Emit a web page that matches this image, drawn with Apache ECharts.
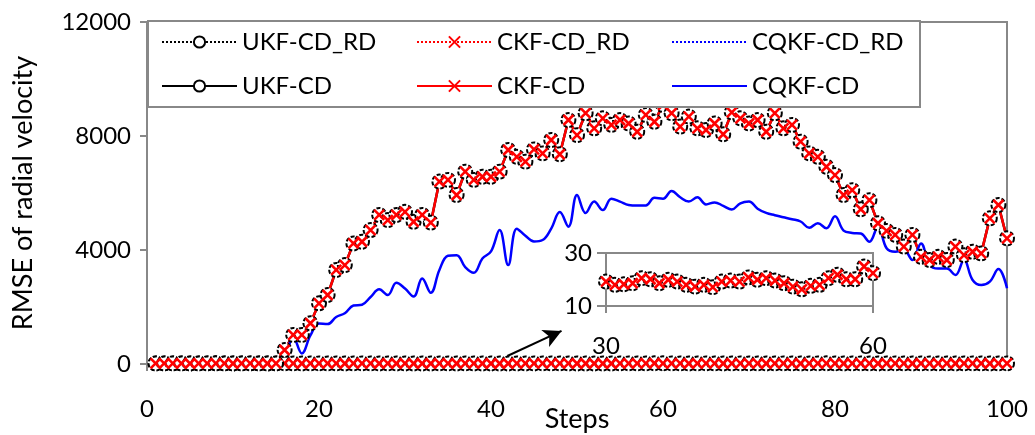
<!DOCTYPE html>
<html><head><meta charset="utf-8">
<script src="https://cdn.jsdelivr.net/npm/echarts@6/dist/echarts.min.js"></script>
<style>html,body{margin:0;padding:0;background:#fff}#c{width:1035px;height:435px}</style>
</head><body><div id="c"></div>
<script>
// Steps 1..100
const steps = Array.from({length:100},(_,i)=>i+1);
const xTicks = [0,20,40,60,80,100];
const yTicks = [0,4000,8000,12000];

// RD series (all three overlap, ~20)
const ukfRD = [19,20,21,20,19,20,21,22,20,19,20,21,20,19,20,21,20,19,20,21,20,20,19,20,21,20,19,20,19,
  19.2,18.0,18.2,18.6,20.5,20.1,18.6,19.9,19.2,18.0,17.3,18.0,17.1,19.2,19.6,19.2,20.8,19.9,20.5,19.6,18.6,17.3,16.3,17.6,18.0,20.5,21.8,20.1,20.1,24.9,22.4,
  21,20,19,20,21,20,19,20,21,20,20,19,20,21,20,19,20,21,22,20,19,20,21,20,19,20,21,20,19,20,21,20,20,19,20,21,20,19,20,21];
const ckfRD = [19,20,21,20,19,20,21,22,20,19,20,21,20,19,20,21,20,19,20,21,20,20,19,20,21,20,19,20,19,
  19.2,18.0,18.2,18.6,20.5,20.1,18.6,19.9,19.2,18.0,17.3,18.0,17.1,19.2,19.6,19.2,20.8,19.9,20.5,19.6,18.6,17.3,16.3,17.6,18.0,20.5,21.8,20.1,20.1,24.9,22.4,
  21,20,19,20,21,20,19,20,21,20,20,19,20,21,20,19,20,21,22,20,19,20,21,20,19,20,21,20,19,20,21,20,20,19,20,21,20,19,20,21];
const cqkfRD = [19,20,21,20,19,20,21,22,20,19,20,21,20,19,20,21,20,19,20,21,20,20,19,20,21,20,19,20,19,
  19.2,18.0,18.2,18.6,20.5,20.1,18.6,19.9,19.2,18.0,17.3,18.0,17.1,19.2,19.6,19.2,20.8,19.9,20.5,19.6,18.6,17.3,16.3,17.6,18.0,20.5,21.8,20.1,20.1,24.9,22.4,
  21,20,19,20,21,20,19,20,21,20,20,19,20,21,20,19,20,21,22,20,19,20,21,20,19,20,21,20,19,20,21,20,20,19,20,21,20,19,20,21];

const ukfCD = [20,20,21,20,19,20,21,22,20,19,20,21,20,19,20,
  490,1020,1020,1430,2130,2420,3300,3470,4230,4290,4700,5230,5050,5230,5340,4990,5230,4960,6400,6460,
  5930,6750,6460,6570,6570,6750,7510,7270,7100,7530,7390,7860,7360,8560,8030,8800,8270,8620,8390,8560,
  8440,8150,8740,8500,9090,8800,8330,8680,8270,8210,8440,8060,8830,8620,8440,8560,8150,8800,8270,8390,
  7800,7390,7270,6920,6630,5930,6100,5430,5750,4940,4670,4530,4120,4530,3760,3650,3760,3650,4120,3820,
  3940,3880,5110,5580,4410];
const ckfCD = [20,20,21,20,19,20,21,22,20,19,20,21,20,19,20,
  490,1020,1020,1430,2130,2420,3300,3470,4230,4290,4700,5230,5050,5230,5340,4990,5230,4960,6400,6460,
  5930,6750,6460,6570,6570,6750,7510,7270,7100,7530,7390,7860,7360,8560,8030,8800,8270,8620,8390,8560,
  8440,8150,8740,8500,9090,8800,8330,8680,8270,8210,8440,8060,8830,8620,8440,8560,8150,8800,8270,8390,
  7800,7390,7270,6920,6630,5930,6100,5430,5750,4940,4670,4530,4120,4530,3760,3650,3760,3650,4120,3820,
  3940,3880,5110,5580,4410];
const cqkfCD = [20,20,21,20,19,20,21,22,20,19,20,21,20,19,20,
  200,950,370,1000,1420,1400,1650,1780,2050,2080,2350,2620,2420,2850,2650,2370,3000,2500,3300,3800,
  3820,3400,3200,3700,3950,4700,3470,4750,4500,4300,4350,4750,5330,4820,5930,5300,5700,5400,5800,5700,
  5580,5560,5560,5830,5800,6070,5850,5700,5850,5600,5670,5550,5420,5640,5700,5450,5300,5220,5150,5080,
  5000,4780,4940,4760,5180,4680,4600,4580,4290,4820,4060,3940,4000,3650,4230,3470,3350,3350,3120,3650,
  2950,2770,2890,3330,2660];

// inset range
const insetFrom = 30, insetTo = 60;
const insetYTicks = [10,30];
// arrow annotation (data coords)
const arrowFrom = [41.9, 280], arrowTo = [48.2, 1160];

const FONT = 'Lato';
const pairs = (arr) => steps.map((s,i)=>[s,arr[i]]);
const insetPairs = (arr) => steps.filter(s=>s>=insetFrom&&s<=insetTo).map(s=>[s,arr[s-1]]);

const X_SYM = 'path://M0,0L10,10M10,0L0,10';
const circStyle = {color:'#000', borderColor:'#000', borderWidth:3, borderType:[4,2]};
const xStyle = {color:'#ff0000', borderColor:'#ff0000', borderWidth:2.6};

function mk(name, data, opt, xi) {
  return Object.assign({name, type:'line', data, xAxisIndex:xi, yAxisIndex:xi, animation:false}, opt);
}
const styles = {
  'UKF-CD_RD': {symbol:'emptyCircle', symbolSize:14, itemStyle:circStyle, lineStyle:{color:'#000', width:2, type:'dotted'}},
  'CKF-CD_RD': {symbol:X_SYM, symbolSize:10, itemStyle:xStyle, lineStyle:{color:'#ff0000', width:2, type:'dotted'}},
  'CQKF-CD_RD': {symbol:'none', itemStyle:{color:'#0000ff'}, lineStyle:{color:'#0000ff', width:2.2, type:'dotted'}},
  'UKF-CD': {symbol:'emptyCircle', symbolSize:14, itemStyle:circStyle, lineStyle:{color:'#000', width:2.5}},
  'CKF-CD': {symbol:X_SYM, symbolSize:10, itemStyle:xStyle, lineStyle:{color:'#ff0000', width:2.5}},
  'CQKF-CD': {symbol:'none', smooth:0.4, itemStyle:{color:'#0000ff'}, lineStyle:{color:'#0000ff', width:2.5}}
};

const series = [
  mk('UKF-CD_RD', pairs(ukfRD), styles['UKF-CD_RD'], 0),
  mk('CKF-CD_RD', pairs(ckfRD), styles['CKF-CD_RD'], 0),
  mk('CQKF-CD_RD', pairs(cqkfRD), styles['CQKF-CD_RD'], 0),
  mk('UKF-CD', pairs(ukfCD), styles['UKF-CD'], 0),
  mk('CKF-CD', pairs(ckfCD), Object.assign({}, styles['CKF-CD'], {
    markLine:{silent:true, symbol:['none','arrow'], symbolSize:[14,18], label:{show:false},
      lineStyle:{color:'#000', width:2, type:'solid'},
      data:[[{coord:arrowFrom},{coord:arrowTo}]]}
  }), 0),
  mk('CQKF-CD', pairs(cqkfCD), styles['CQKF-CD'], 0),
  mk('UKF-CD_RD', insetPairs(ukfRD), styles['UKF-CD_RD'], 1),
  mk('CKF-CD_RD', insetPairs(ckfRD), styles['CKF-CD_RD'], 1),
  mk('CQKF-CD_RD', insetPairs(cqkfRD), styles['CQKF-CD_RD'], 1)
];

const axisLine = {lineStyle:{color:'#888', width:2}};
const lbl = {color:'#000', fontFamily:FONT, fontSize:24, formatter:(v)=>String(v)};
const nameStyle = {color:'#000', fontFamily:FONT, fontSize:27};

const chart = echarts.init(document.getElementById('c'), null, {renderer:'canvas'});
chart.setOption({
  backgroundColor:'#fff',
  animation:false,
  grid:[
    {left:147, right:28, top:22, bottom:71, show:true, borderColor:'#888', borderWidth:2, backgroundColor:'transparent', containLabel:false, outerBoundsMode:'none'},
    {left:606, width:267, top:253, height:53, show:true, borderColor:'#888', borderWidth:2, backgroundColor:'transparent', containLabel:false, outerBoundsMode:'none'}
  ],
  legend:{
    left:148, top:21, width:760, padding:[4,4,4,13], itemGap:10,
    itemWidth:75, itemHeight:14,
    borderColor:'#888', borderWidth:2, backgroundColor:'#fff',
    textStyle:{color:'#000', fontFamily:FONT, fontSize:24, width:164, lineHeight:34},
    data:['UKF-CD_RD','CKF-CD_RD',{name:'CQKF-CD_RD', itemStyle:{opacity:0}},'UKF-CD','CKF-CD',{name:'CQKF-CD', itemStyle:{opacity:0}}]
  },
  xAxis:[
    {type:'value', gridIndex:0, min:xTicks[0], max:xTicks[xTicks.length-1], interval:20,
      name:'Steps', nameLocation:'middle', nameGap:42, nameMoveOverlap:false, nameTextStyle:nameStyle,
      axisLine, axisTick:{show:true, length:7, lineStyle:{color:'#888', width:2}},
      axisLabel:Object.assign({margin:33}, lbl), splitLine:{show:false}},
    {type:'value', gridIndex:1, min:insetFrom, max:insetTo, interval:30,
      axisLine, axisTick:{show:true, length:7, lineStyle:{color:'#888', width:2}},
      axisLabel:Object.assign({margin:28}, lbl), splitLine:{show:false}}
  ],
  yAxis:[
    {type:'value', gridIndex:0, min:yTicks[0], max:yTicks[yTicks.length-1], interval:4000,
      name:'RMSE of radial velocity', nameLocation:'middle', nameGap:110,
      nameTextStyle:nameStyle,
      axisLine, axisTick:{show:true, length:7, lineStyle:{color:'#888', width:2}},
      axisLabel:Object.assign({margin:16}, lbl), splitLine:{show:false}},
    {type:'value', gridIndex:1, min:insetYTicks[0], max:insetYTicks[1], interval:20,
      axisLine, axisTick:{show:true, length:9, lineStyle:{color:'#888', width:2}},
      axisLabel:Object.assign({margin:14}, lbl), splitLine:{show:false}}
  ],
  series
});
</script></body></html>
